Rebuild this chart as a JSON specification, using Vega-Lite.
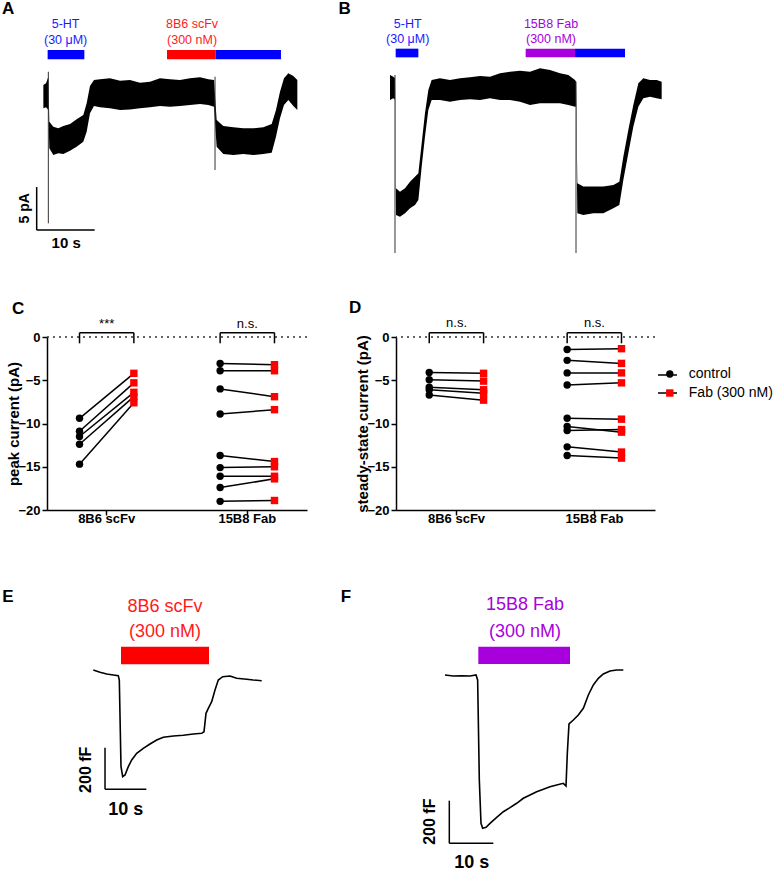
{
"$schema": "https://vega.github.io/schema/vega-lite/v6.json",
"background": "white",
"padding": 0,
"autosize": {"type": "pad"},
"columns": 4,
"align": "none",
"spacing": 0,
"bounds": "flush",
"resolve": {"scale": {"color": "independent", "shape": "independent", "strokeDash": "independent"}, "legend": {"color": "independent", "shape": "independent", "strokeDash": "independent"}},
"config": {
  "view": {"stroke": null},
  "font": "Liberation Sans",
  "axis": {"labelFont": "Liberation Sans", "labelFontSize": 13, "labelFontWeight": "bold", "labelColor": "black", "titleFont": "Liberation Sans", "titleFontSize": 15, "titleFontWeight": "bold", "titleColor": "black", "domainColor": "black", "domainWidth": 1.5, "tickColor": "black", "tickWidth": 1.5, "tickSize": 5, "grid": false, "labelPadding": 2},
  "title": {"font": "Liberation Sans", "fontSize": 17, "fontWeight": "bold", "color": "black"}
},
"datasets": {
  "traceA": [
    {"t":0.06,"hi":0.81,"lo":-1.90},{"t":0.52,"hi":1.01,"lo":-1.78},{"t":0.92,"hi":1.78,"lo":-2.09},
    {"t":1.09,"hi":-3.45,"lo":-6.55},{"t":1.78,"hi":-4.03,"lo":-7.33},{"t":2.64,"hi":-4.22,"lo":-7.13},
    {"t":3.51,"hi":-3.95,"lo":-7.21},{"t":4.66,"hi":-3.72,"lo":-6.82},{"t":5.80,"hi":-3.18,"lo":-6.36},
    {"t":6.95,"hi":-2.67,"lo":-5.78},{"t":7.53,"hi":-1.32,"lo":-4.61},{"t":8.10,"hi":0.70,"lo":-2.48},
    {"t":8.79,"hi":1.40,"lo":-1.63},{"t":9.83,"hi":1.47,"lo":-1.78},{"t":11.55,"hi":1.59,"lo":-1.90},
    {"t":13.28,"hi":1.32,"lo":-2.09},{"t":15.0,"hi":1.40,"lo":-2.02},{"t":16.72,"hi":1.09,"lo":-1.90},
    {"t":18.45,"hi":1.20,"lo":-1.78},{"t":20.17,"hi":1.59,"lo":-1.63},{"t":21.90,"hi":1.47,"lo":-1.71},
    {"t":23.62,"hi":1.40,"lo":-1.63},{"t":25.34,"hi":1.59,"lo":-1.51},{"t":27.07,"hi":1.71,"lo":-1.40},
    {"t":28.51,"hi":1.47,"lo":-1.51},{"t":29.48,"hi":1.40,"lo":-1.71},{"t":29.94,"hi":-3.26,"lo":-6.36},
    {"t":31.09,"hi":-3.95,"lo":-7.21},{"t":32.82,"hi":-4.11,"lo":-7.33},{"t":34.54,"hi":-4.22,"lo":-7.21},
    {"t":36.26,"hi":-4.22,"lo":-7.33},{"t":37.99,"hi":-4.11,"lo":-7.21},{"t":39.43,"hi":-3.72,"lo":-7.05},
    {"t":40.17,"hi":-2.09,"lo":-5.19},{"t":40.86,"hi":0.04,"lo":-3.06},{"t":41.55,"hi":1.59,"lo":-1.51},
    {"t":42.30,"hi":2.17,"lo":-0.93},{"t":43.16,"hi":1.86,"lo":-1.63},{"t":43.85,"hi":1.40,"lo":-2.09}
  ],
  "spikesA": [{"t":0.92,"top":2.36,"bottom":-15.27},{"t":29.66,"top":1.78,"bottom":-9.07}],
  "drugsA": [{"drug":"5-HT","start":0.80,"end":7.13},{"drug":"8B6 scFv","start":21.38,"end":29.77},{"drug":"5-HT","start":29.77,"end":41.03}],
  "traceB": [
    {"t":0,"hi":1.98,"lo":-0.93},{"t":0.57,"hi":1.78,"lo":-0.74},{"t":0.86,"hi":1.6,"lo":-0.9},
    {"t":1.03,"hi":-11.2,"lo":-14.3},{"t":1.72,"hi":-11.59,"lo":-14.5},{"t":2.59,"hi":-11.2,"lo":-14.1},
    {"t":3.45,"hi":-10.43,"lo":-13.53},{"t":4.31,"hi":-9.84,"lo":-13.14},{"t":4.89,"hi":-9.46,"lo":-12.56},
    {"t":5.46,"hi":-5.97,"lo":-8.68},{"t":6.03,"hi":-2.48,"lo":-5.19},{"t":6.61,"hi":0.23,"lo":-2.09},
    {"t":7.18,"hi":1.40,"lo":-0.93},{"t":8.62,"hi":1.59,"lo":-0.93},{"t":10.34,"hi":1.40,"lo":-1.12},
    {"t":12.07,"hi":1.59,"lo":-0.93},{"t":13.79,"hi":1.71,"lo":-0.85},{"t":15.52,"hi":1.86,"lo":-0.93},
    {"t":17.24,"hi":1.78,"lo":-0.74},{"t":18.97,"hi":2.17,"lo":-0.93},{"t":20.69,"hi":2.36,"lo":-0.93},
    {"t":22.41,"hi":2.48,"lo":-1.12},{"t":24.14,"hi":2.36,"lo":-1.51},{"t":25.86,"hi":2.75,"lo":-1.32},
    {"t":27.59,"hi":2.56,"lo":-1.32},{"t":29.31,"hi":2.17,"lo":-1.32},{"t":30.75,"hi":1.98,"lo":-1.51},
    {"t":31.90,"hi":1.40,"lo":-1.71},{"t":32.07,"hi":1.2,"lo":-1.7},{"t":32.30,"hi":-10.62,"lo":-14.11},
    {"t":33.33,"hi":-11.0,"lo":-14.3},{"t":35.06,"hi":-11.0,"lo":-14.1},{"t":36.78,"hi":-11.0,"lo":-14.1},
    {"t":38.51,"hi":-10.81,"lo":-13.53},{"t":39.54,"hi":-10.43,"lo":-13.14},{"t":40.23,"hi":-7.52,"lo":-10.23},
    {"t":41.09,"hi":-4.42,"lo":-7.13},{"t":41.95,"hi":-1.51,"lo":-4.03},{"t":42.82,"hi":1.01,"lo":-1.71},
    {"t":43.68,"hi":1.59,"lo":-0.74},{"t":44.83,"hi":1.40,"lo":-0.54},{"t":45.98,"hi":1.40,"lo":-0.74},
    {"t":46.84,"hi":1.20,"lo":-0.85}
  ],
  "spikesB": [{"t":0.86,"top":1.98,"bottom":-18.72},{"t":32.07,"top":1.2,"bottom":-18.72}],
  "drugsB": [{"drug":"5-HT","start":0.98,"end":4.89},{"drug":"15B8 Fab","start":23.39,"end":31.90},{"drug":"5-HT","start":31.90,"end":40.52}],
  "peak": [
    {"group":"8B6 scFv","pair":1,"condition":"control","value":-9.4},{"group":"8B6 scFv","pair":1,"condition":"Fab (300 nM)","value":-4.2},
    {"group":"8B6 scFv","pair":2,"condition":"control","value":-10.9},{"group":"8B6 scFv","pair":2,"condition":"Fab (300 nM)","value":-5.3},
    {"group":"8B6 scFv","pair":3,"condition":"control","value":-11.5},{"group":"8B6 scFv","pair":3,"condition":"Fab (300 nM)","value":-6.4},
    {"group":"8B6 scFv","pair":4,"condition":"control","value":-12.4},{"group":"8B6 scFv","pair":4,"condition":"Fab (300 nM)","value":-6.9},
    {"group":"8B6 scFv","pair":5,"condition":"control","value":-14.7},{"group":"8B6 scFv","pair":5,"condition":"Fab (300 nM)","value":-7.6},
    {"group":"15B8 Fab","pair":6,"condition":"control","value":-3.05},{"group":"15B8 Fab","pair":6,"condition":"Fab (300 nM)","value":-3.2},
    {"group":"15B8 Fab","pair":7,"condition":"control","value":-3.9},{"group":"15B8 Fab","pair":7,"condition":"Fab (300 nM)","value":-3.9},
    {"group":"15B8 Fab","pair":8,"condition":"control","value":-6.0},{"group":"15B8 Fab","pair":8,"condition":"Fab (300 nM)","value":-6.9},
    {"group":"15B8 Fab","pair":9,"condition":"control","value":-8.9},{"group":"15B8 Fab","pair":9,"condition":"Fab (300 nM)","value":-8.4},
    {"group":"15B8 Fab","pair":10,"condition":"control","value":-13.7},{"group":"15B8 Fab","pair":10,"condition":"Fab (300 nM)","value":-14.4},
    {"group":"15B8 Fab","pair":11,"condition":"control","value":-15.1},{"group":"15B8 Fab","pair":11,"condition":"Fab (300 nM)","value":-15.0},
    {"group":"15B8 Fab","pair":12,"condition":"control","value":-16.1},{"group":"15B8 Fab","pair":12,"condition":"Fab (300 nM)","value":-16.1},
    {"group":"15B8 Fab","pair":13,"condition":"control","value":-17.4},{"group":"15B8 Fab","pair":13,"condition":"Fab (300 nM)","value":-16.4},
    {"group":"15B8 Fab","pair":14,"condition":"control","value":-19.0},{"group":"15B8 Fab","pair":14,"condition":"Fab (300 nM)","value":-18.9}
  ],
  "steady": [
    {"group":"8B6 scFv","pair":1,"condition":"control","value":-4.1},{"group":"8B6 scFv","pair":1,"condition":"Fab (300 nM)","value":-4.2},
    {"group":"8B6 scFv","pair":2,"condition":"control","value":-4.95},{"group":"8B6 scFv","pair":2,"condition":"Fab (300 nM)","value":-5.1},
    {"group":"8B6 scFv","pair":3,"condition":"control","value":-5.8},{"group":"8B6 scFv","pair":3,"condition":"Fab (300 nM)","value":-6.1},
    {"group":"8B6 scFv","pair":4,"condition":"control","value":-6.1},{"group":"8B6 scFv","pair":4,"condition":"Fab (300 nM)","value":-6.5},
    {"group":"8B6 scFv","pair":5,"condition":"control","value":-6.7},{"group":"8B6 scFv","pair":5,"condition":"Fab (300 nM)","value":-7.3},
    {"group":"15B8 Fab","pair":6,"condition":"control","value":-1.45},{"group":"15B8 Fab","pair":6,"condition":"Fab (300 nM)","value":-1.35},
    {"group":"15B8 Fab","pair":7,"condition":"control","value":-2.7},{"group":"15B8 Fab","pair":7,"condition":"Fab (300 nM)","value":-3.05},
    {"group":"15B8 Fab","pair":8,"condition":"control","value":-4.15},{"group":"15B8 Fab","pair":8,"condition":"Fab (300 nM)","value":-4.15},
    {"group":"15B8 Fab","pair":9,"condition":"control","value":-5.55},{"group":"15B8 Fab","pair":9,"condition":"Fab (300 nM)","value":-5.3},
    {"group":"15B8 Fab","pair":10,"condition":"control","value":-9.4},{"group":"15B8 Fab","pair":10,"condition":"Fab (300 nM)","value":-9.5},
    {"group":"15B8 Fab","pair":11,"condition":"control","value":-10.35},{"group":"15B8 Fab","pair":11,"condition":"Fab (300 nM)","value":-11.0},
    {"group":"15B8 Fab","pair":12,"condition":"control","value":-10.8},{"group":"15B8 Fab","pair":12,"condition":"Fab (300 nM)","value":-10.7},
    {"group":"15B8 Fab","pair":13,"condition":"control","value":-12.7},{"group":"15B8 Fab","pair":13,"condition":"Fab (300 nM)","value":-13.3},
    {"group":"15B8 Fab","pair":14,"condition":"control","value":-13.7},{"group":"15B8 Fab","pair":14,"condition":"Fab (300 nM)","value":-14.0}
  ],
  "conditions": [{"condition":"control"},{"condition":"Fab (300 nM)"}],
  "sigC": [{"group":"8B6 scFv","label":"***"},{"group":"15B8 Fab","label":"n.s."}],
  "sigD": [{"group":"8B6 scFv","label":"n.s."},{"group":"15B8 Fab","label":"n.s."}],
  "bracketEnds": [{"group":"8B6 scFv","condition":"control"},{"group":"8B6 scFv","condition":"Fab (300 nM)"},{"group":"15B8 Fab","condition":"control"},{"group":"15B8 Fab","condition":"Fab (300 nM)"}],
  "traceE": [
    {"t":0.07,"c":9.6},{"t":1.69,"c":-1.4},{"t":3.32,"c":-9.6},{"t":4.92,"c":-14.4},{"t":6.13,"c":-17.8},
    {"t":6.37,"c":-38.5},{"t":6.78,"c":-455.3},{"t":7.19,"c":-503.4},{"t":7.75,"c":-495.2},{"t":8.55,"c":-455.3},
    {"t":9.37,"c":-423.1},{"t":10.58,"c":-391},{"t":12.18,"c":-366.8},{"t":13.80,"c":-346.2},{"t":15.42,"c":-326.9},
    {"t":17.02,"c":-313.9},{"t":19.44,"c":-307.7},{"t":21.86,"c":-304.3},{"t":24.29,"c":-298.1},{"t":26.32,"c":-294.7},
    {"t":26.88,"c":-287.0},{"t":27.36,"c":-198.6},{"t":27.92,"c":-174.5},{"t":28.74,"c":-142.8},{"t":29.54,"c":-86.5},
    {"t":30.34,"c":-38.5},{"t":31.40,"c":-22.6},{"t":33.17,"c":-19.2},{"t":34.79,"c":-30.3},{"t":37.22,"c":-35.1},
    {"t":38.81,"c":-38.5},{"t":40.85,"c":-41.8}
  ],
  "drugsE": [{"drug":"8B6 scFv","start":6.78,"end":28.09}],
  "traceF": [
    {"t":0,"c":0},{"t":1.89,"c":-4.7},{"t":3.79,"c":-3.3},{"t":5.68,"c":-4.7},{"t":7.05,"c":0},
    {"t":7.42,"c":-23.5},{"t":7.80,"c":-493},{"t":8.18,"c":-696.3},{"t":8.56,"c":-719.7},{"t":9.32,"c":-715},
    {"t":10.23,"c":-696.3},{"t":11.74,"c":-668.1},{"t":13.26,"c":-641.8},{"t":14.77,"c":-622.8},{"t":16.29,"c":-602.3},
    {"t":17.80,"c":-578.9},{"t":19.32,"c":-563.4},{"t":20.83,"c":-547.9},{"t":22.35,"c":-536.6},{"t":23.86,"c":-524.4},
    {"t":25.38,"c":-516.4},{"t":26.89,"c":-508.5},{"t":27.50,"c":-521.1},{"t":27.80,"c":-367.6},{"t":28.18,"c":-230},
    {"t":29.17,"c":-211.3},{"t":30.30,"c":-187.8},{"t":31.44,"c":-156.3},{"t":32.58,"c":-93.9},{"t":33.71,"c":-46.9},
    {"t":34.85,"c":-15.6},{"t":35.98,"c":4.7},{"t":37.5,"c":18.8},{"t":39.02,"c":23.5},{"t":40.53,"c":23.5}
  ],
  "drugsF": [{"drug":"15B8 Fab","start":7.57,"end":28.41}]
},
"concat": [
  {"width": 1, "height": 337, "data": {"values": []}, "mark": "point", "encoding": {}},
  {
    "width": 260, "height": 337,
    "layer": [
      {"data": {"name": "traceA"}, "mark": {"type": "area", "color": "black"},
       "encoding": {"x": {"field": "t", "type": "quantitative", "scale": {"domain": [0.6897, 45.517], "nice": false, "zero": false}, "axis": null},
                    "y": {"field": "hi", "type": "quantitative", "scale": {"domain": [-28.488, 10.698], "nice": false, "zero": false}, "axis": null},
                    "y2": {"field": "lo"}}},
      {"data": {"name": "spikesA"}, "mark": {"type": "rule", "color": "#333333", "strokeWidth": 1},
       "encoding": {"x": {"field": "t", "type": "quantitative", "axis": null}, "y": {"field": "top", "type": "quantitative", "axis": null}, "y2": {"field": "bottom"}}},
      {"data": {"name": "drugsA"}, "mark": {"type": "rect"},
       "encoding": {"x": {"field": "start", "type": "quantitative", "axis": null}, "x2": {"field": "end"},
                    "y": {"datum": 4.88, "axis": null}, "y2": {"datum": 3.80},
                    "color": {"field": "drug", "type": "nominal", "scale": {"domain": ["5-HT", "8B6 scFv", "15B8 Fab"], "range": ["#0000ff", "#ff0000", "#a800dc"]}, "legend": null}}},
      {"data": {"values": [{}]}, "mark": {"type": "rule", "color": "black", "strokeWidth": 1.5},
       "encoding": {"x": {"datum": -1.09, "axis": null}, "y": {"datum": -11.05, "axis": null}, "y2": {"datum": -16.05}}},
      {"data": {"values": [{}]}, "mark": {"type": "rule", "color": "black", "strokeWidth": 1.5},
       "encoding": {"x": {"datum": -1.09, "axis": null}, "x2": {"datum": 8.91}, "y": {"datum": -16.05, "axis": null}}},
      {"data": {"values": [{}]}, "mark": {"type": "text", "text": "A", "fontSize": 17, "fontWeight": "bold", "color": "black"},
       "encoding": {"x": {"datum": -6.03, "axis": null}, "y": {"datum": 9.65, "axis": null}}},
      {"data": {"values": [{}]}, "mark": {"type": "text", "text": "5-HT", "fontSize": 12.5, "color": "#1a1aff"},
       "encoding": {"x": {"datum": 3.9, "axis": null}, "y": {"datum": 7.91, "axis": null}}},
      {"data": {"values": [{}]}, "mark": {"type": "text", "text": "(30 μM)", "fontSize": 12.5, "color": "#1a1aff"},
       "encoding": {"x": {"datum": 3.9, "axis": null}, "y": {"datum": 6.05, "axis": null}}},
      {"data": {"values": [{}]}, "mark": {"type": "text", "text": "8B6 scFv", "fontSize": 12.5, "color": "#ff1a1a"},
       "encoding": {"x": {"datum": 25.7, "axis": null}, "y": {"datum": 7.91, "axis": null}}},
      {"data": {"values": [{}]}, "mark": {"type": "text", "text": "(300 nM)", "fontSize": 12.5, "color": "#ff1a1a"},
       "encoding": {"x": {"datum": 25.7, "axis": null}, "y": {"datum": 6.05, "axis": null}}},
      {"data": {"values": [{}]}, "mark": {"type": "text", "text": "5 pA", "fontSize": 14, "fontWeight": "bold", "color": "black", "angle": 270},
       "encoding": {"x": {"datum": -3.10, "axis": null}, "y": {"datum": -13.53, "axis": null}}},
      {"data": {"values": [{}]}, "mark": {"type": "text", "text": "10 s", "fontSize": 15, "fontWeight": "bold", "color": "black"},
       "encoding": {"x": {"datum": 4.0, "axis": null}, "y": {"datum": -17.6, "axis": null}}}
    ]
  },
  {"width": 1, "height": 337, "data": {"values": []}, "mark": "point", "encoding": {}},
  {
    "width": 259, "height": 337,
    "layer": [
      {"data": {"name": "traceB"}, "mark": {"type": "area", "color": "black"},
       "encoding": {"x": {"field": "t", "type": "quantitative", "scale": {"domain": [1.0345, 45.69], "nice": false, "zero": false}, "axis": null},
                    "y": {"field": "hi", "type": "quantitative", "scale": {"domain": [-28.488, 10.698], "nice": false, "zero": false}, "axis": null},
                    "y2": {"field": "lo"}}},
      {"data": {"name": "spikesB"}, "mark": {"type": "rule", "color": "#333333", "strokeWidth": 1},
       "encoding": {"x": {"field": "t", "type": "quantitative", "axis": null}, "y": {"field": "top", "type": "quantitative", "axis": null}, "y2": {"field": "bottom"}}},
      {"data": {"name": "drugsB"}, "mark": {"type": "rect"},
       "encoding": {"x": {"field": "start", "type": "quantitative", "axis": null}, "x2": {"field": "end"},
                    "y": {"datum": 5.04, "axis": null}, "y2": {"datum": 4.03},
                    "color": {"field": "drug", "type": "nominal", "scale": {"domain": ["5-HT", "8B6 scFv", "15B8 Fab"], "range": ["#0000ff", "#ff0000", "#a800dc"]}, "legend": null}}},
      {"data": {"values": [{}]}, "mark": {"type": "text", "text": "B", "fontSize": 17, "fontWeight": "bold", "color": "black"},
       "encoding": {"x": {"datum": -7.8, "axis": null}, "y": {"datum": 9.65, "axis": null}}},
      {"data": {"values": [{}]}, "mark": {"type": "text", "text": "5-HT", "fontSize": 12.5, "color": "#1a1aff"},
       "encoding": {"x": {"datum": 3.05, "axis": null}, "y": {"datum": 7.91, "axis": null}}},
      {"data": {"values": [{}]}, "mark": {"type": "text", "text": "(30 μM)", "fontSize": 12.5, "color": "#1a1aff"},
       "encoding": {"x": {"datum": 3.05, "axis": null}, "y": {"datum": 6.12, "axis": null}}},
      {"data": {"values": [{}]}, "mark": {"type": "text", "text": "15B8 Fab", "fontSize": 12.5, "color": "#a800dc"},
       "encoding": {"x": {"datum": 27.76, "axis": null}, "y": {"datum": 7.91, "axis": null}}},
      {"data": {"values": [{}]}, "mark": {"type": "text", "text": "(300 nM)", "fontSize": 12.5, "color": "#a800dc"},
       "encoding": {"x": {"datum": 27.76, "axis": null}, "y": {"datum": 6.12, "axis": null}}}
    ]
  },
  {"width": 47, "height": 173, "data": {"values": []}, "mark": "point", "encoding": {}},
  {
    "width": 260, "height": 173,
    "title": {"text": "C", "anchor": "start", "frame": "bounds", "offset": 0, "dx": 5},
    "layer": [
      {"data": {"values": [{}]}, "mark": {"type": "rule", "strokeDash": [2, 4], "color": "#333333", "strokeWidth": 1.5},
       "encoding": {"y": {"datum": 0}}},
      {"data": {"name": "bracketEnds"}, "mark": {"type": "line", "color": "black", "strokeWidth": 1.5},
       "encoding": {"x": {"field": "group", "type": "nominal", "title": null}, "xOffset": {"field": "condition", "type": "nominal"}, "y": {"datum": 0.5}, "detail": {"field": "group"}}},
      {"data": {"name": "bracketEnds"}, "mark": {"type": "rule", "color": "black", "strokeWidth": 1.5},
       "encoding": {"x": {"field": "group", "type": "nominal", "title": null}, "xOffset": {"field": "condition", "type": "nominal"}, "y": {"datum": 0.5}, "y2": {"datum": -0.73}}},
      {"data": {"name": "sigC"}, "mark": {"type": "text", "fontSize": 13, "color": "black"},
       "encoding": {"x": {"field": "group", "type": "nominal", "title": null}, "y": {"datum": 1.45}, "text": {"field": "label"}}},
      {"data": {"name": "peak"}, "mark": {"type": "line", "color": "black", "strokeWidth": 1.5},
       "encoding": {"x": {"field": "group", "type": "nominal", "title": null}, "xOffset": {"field": "condition", "type": "nominal"}, "y": {"field": "value", "type": "quantitative", "title": "peak current (pA)"}, "detail": {"field": "pair"}}},
      {"data": {"name": "peak"}, "mark": {"type": "point", "filled": true, "opacity": 1, "size": 55},
       "encoding": {
         "x": {"field": "group", "type": "nominal", "title": null, "scale": {"domain": ["8B6 scFv", "15B8 Fab"], "paddingInner": 0.227, "paddingOuter": 0.038}, "axis": {"title": null, "labelAngle": 0, "labelPadding": 3, "bandPosition": 0.5, "labelAlign": "center"}},
         "xOffset": {"field": "condition", "type": "nominal", "scale": {"domain": ["control", "Fab (300 nM)"], "paddingInner": 0, "paddingOuter": 0}},
         "y": {"field": "value", "type": "quantitative", "title": "peak current (pA)", "scale": {"domain": [-20, 0], "nice": false, "zero": false}, "axis": {"values": [0, -5, -10, -15, -20], "title": "peak current (pA)", "titlePadding": -4}},
         "color": {"field": "condition", "type": "nominal", "scale": {"domain": ["control", "Fab (300 nM)"], "range": ["black", "#ff0000"]}, "legend": null},
         "shape": {"field": "condition", "type": "nominal", "scale": {"domain": ["control", "Fab (300 nM)"], "range": ["circle", "square"]}, "legend": null}}}
    ]
  },
  {"width": 89, "height": 173, "data": {"values": []}, "mark": "point", "encoding": {}},
  {
    "width": 259, "height": 173,
    "title": {"text": "D", "anchor": "start", "frame": "bounds", "offset": 0, "dx": -7},
    "layer": [
      {"data": {"values": [{}]}, "mark": {"type": "rule", "strokeDash": [2, 4], "color": "#333333", "strokeWidth": 1.5},
       "encoding": {"y": {"datum": 0}}},
      {"data": {"name": "bracketEnds"}, "mark": {"type": "line", "color": "black", "strokeWidth": 1.5},
       "encoding": {"x": {"field": "group", "type": "nominal", "title": null}, "xOffset": {"field": "condition", "type": "nominal"}, "y": {"datum": 0.5}, "detail": {"field": "group"}}},
      {"data": {"name": "bracketEnds"}, "mark": {"type": "rule", "color": "black", "strokeWidth": 1.5},
       "encoding": {"x": {"field": "group", "type": "nominal", "title": null}, "xOffset": {"field": "condition", "type": "nominal"}, "y": {"datum": 0.5}, "y2": {"datum": -0.73}}},
      {"data": {"name": "sigD"}, "mark": {"type": "text", "fontSize": 13, "color": "black"},
       "encoding": {"x": {"field": "group", "type": "nominal", "title": null}, "y": {"datum": 1.6}, "text": {"field": "label"}}},
      {"data": {"name": "conditions"}, "mark": {"type": "line", "opacity": 0, "color": "black", "strokeWidth": 1.6},
       "encoding": {"x": {"datum": "8B6 scFv"}, "y": {"datum": -1},
                    "strokeDash": {"field": "condition", "type": "nominal", "scale": {"domain": ["Fab (300 nM)", "control"], "range": [[1, 0], [1, 0]]},
                      "legend": {"title": null, "orient": "none", "legendX": 261, "legendY": 27.5, "symbolSize": 361, "symbolStrokeWidth": 1.6, "symbolStrokeColor": "black", "symbolOpacity": 1, "labelFontSize": 14, "labelExpr": "''", "labelOpacity": 0, "rowPadding": 0, "zindex": 1}}}},
      {"data": {"name": "steady"}, "mark": {"type": "line", "color": "black", "strokeWidth": 1.5},
       "encoding": {"x": {"field": "group", "type": "nominal", "title": null}, "xOffset": {"field": "condition", "type": "nominal"}, "y": {"field": "value", "type": "quantitative", "title": "steady-state current (pA)"}, "detail": {"field": "pair"}}},
      {"data": {"name": "steady"}, "mark": {"type": "point", "filled": true, "opacity": 1, "size": 55},
       "encoding": {
         "x": {"field": "group", "type": "nominal", "title": null, "scale": {"domain": ["8B6 scFv", "15B8 Fab"], "paddingInner": 0.21, "paddingOuter": 0.044}, "axis": {"title": null, "labelAngle": 0, "labelPadding": 3, "bandPosition": 0.5, "labelAlign": "center"}},
         "xOffset": {"field": "condition", "type": "nominal", "scale": {"domain": ["control", "Fab (300 nM)"], "paddingInner": 0, "paddingOuter": 0}},
         "y": {"field": "value", "type": "quantitative", "title": "steady-state current (pA)", "scale": {"domain": [-20, 0], "nice": false, "zero": false}, "axis": {"values": [0, -5, -10, -15, -20], "title": "steady-state current (pA)", "titlePadding": -4}},
         "color": {"field": "condition", "type": "nominal", "scale": {"domain": ["control", "Fab (300 nM)"], "range": ["black", "#ff0000"]},
           "legend": {"title": null, "orient": "none", "legendX": 266.8, "legendY": 30, "symbolSize": 55, "symbolOpacity": 1, "labelFontSize": 14, "labelFont": "Liberation Sans", "labelColor": "black", "labelLimit": 200, "rowPadding": 5, "labelOffset": 12, "zindex": 2}},
         "shape": {"field": "condition", "type": "nominal", "scale": {"domain": ["control", "Fab (300 nM)"], "range": ["circle", "square"]}, "legend": null}}}
    ]
  },
  {"width": 1, "height": 362, "data": {"values": []}, "mark": "point", "encoding": {}},
  {
    "width": 260, "height": 362,
    "layer": [
      {"data": {"name": "traceE"}, "mark": {"type": "line", "color": "black", "strokeWidth": 1.6},
       "encoding": {"x": {"field": "t", "type": "quantitative", "scale": {"domain": [-11.138, 51.816], "nice": false, "zero": false}, "axis": null},
                    "y": {"field": "c", "type": "quantitative", "scale": {"domain": [-961.54, 778.85], "nice": false, "zero": false}, "axis": null}}},
      {"data": {"name": "drugsE"}, "mark": {"type": "rect"},
       "encoding": {"x": {"field": "start", "type": "quantitative", "axis": null}, "x2": {"field": "end"},
                    "y": {"datum": 121.6, "axis": null}, "y2": {"datum": 37.0},
                    "color": {"field": "drug", "type": "nominal", "scale": {"domain": ["5-HT", "8B6 scFv", "15B8 Fab"], "range": ["#0000ff", "#ff0000", "#a800dc"]}, "legend": null}}},
      {"data": {"values": [{}]}, "mark": {"type": "rule", "color": "black", "strokeWidth": 1.5},
       "encoding": {"x": {"datum": 2.91, "axis": null}, "y": {"datum": -364, "axis": null}, "y2": {"datum": -564}}},
      {"data": {"values": [{}]}, "mark": {"type": "rule", "color": "black", "strokeWidth": 1.5},
       "encoding": {"x": {"datum": 2.91, "axis": null}, "x2": {"datum": 12.91}, "y": {"datum": -564, "axis": null}}},
      {"data": {"values": [{}]}, "mark": {"type": "text", "text": "E", "fontSize": 17, "fontWeight": "bold", "color": "black"},
       "encoding": {"x": {"datum": -20.58, "axis": null}, "y": {"datum": 360.6, "axis": null}}},
      {"data": {"values": [{}]}, "mark": {"type": "text", "text": "8B6 scFv", "fontSize": 18, "color": "#ff1a1a"},
       "encoding": {"x": {"datum": 17.43, "axis": null}, "y": {"datum": 313.9, "axis": null}}},
      {"data": {"values": [{}]}, "mark": {"type": "text", "text": "(300 nM)", "fontSize": 18, "color": "#ff1a1a"},
       "encoding": {"x": {"datum": 17.43, "axis": null}, "y": {"datum": 193.8, "axis": null}}},
      {"data": {"values": [{}]}, "mark": {"type": "text", "text": "200 fF", "fontSize": 16, "fontWeight": "bold", "color": "black", "angle": 270},
       "encoding": {"x": {"datum": -1.69, "axis": null}, "y": {"datum": -470, "axis": null}}},
      {"data": {"values": [{}]}, "mark": {"type": "text", "text": "10 s", "fontSize": 18, "fontWeight": "bold", "color": "black"},
       "encoding": {"x": {"datum": 7.92, "axis": null}, "y": {"datum": -663.5, "axis": null}}}
    ]
  },
  {"width": 1, "height": 362, "data": {"values": []}, "mark": "point", "encoding": {}},
  {
    "width": 259, "height": 362,
    "layer": [
      {"data": {"name": "traceF"}, "mark": {"type": "line", "color": "black", "strokeWidth": 1.6},
       "encoding": {"x": {"field": "t", "type": "quantitative", "scale": {"domain": [-11.136, 47.727], "nice": false, "zero": false}, "axis": null},
                    "y": {"field": "c", "type": "quantitative", "scale": {"domain": [-924.88, 774.65], "nice": false, "zero": false}, "axis": null}}},
      {"data": {"name": "drugsF"}, "mark": {"type": "rect"},
       "encoding": {"x": {"field": "start", "type": "quantitative", "axis": null}, "x2": {"field": "end"},
                    "y": {"datum": 132.9, "axis": null}, "y2": {"datum": 51.6},
                    "color": {"field": "drug", "type": "nominal", "scale": {"domain": ["5-HT", "8B6 scFv", "15B8 Fab"], "range": ["#0000ff", "#ff0000", "#a800dc"]}, "legend": null}}},
      {"data": {"values": [{}]}, "mark": {"type": "rule", "color": "black", "strokeWidth": 1.5},
       "encoding": {"x": {"datum": 0.98, "axis": null}, "y": {"datum": -590.1, "axis": null}, "y2": {"datum": -790.1}}},
      {"data": {"values": [{}]}, "mark": {"type": "rule", "color": "black", "strokeWidth": 1.5},
       "encoding": {"x": {"datum": 0.98, "axis": null}, "x2": {"datum": 10.98}, "y": {"datum": -790.1, "axis": null}}},
      {"data": {"values": [{}]}, "mark": {"type": "text", "text": "F", "fontSize": 17, "fontWeight": "bold", "color": "black"},
       "encoding": {"x": {"datum": -22.5, "axis": null}, "y": {"datum": 366.2, "axis": null}}},
      {"data": {"values": [{}]}, "mark": {"type": "text", "text": "15B8 Fab", "fontSize": 18, "color": "#a800dc"},
       "encoding": {"x": {"datum": 18.18, "axis": null}, "y": {"datum": 328.6, "axis": null}}},
      {"data": {"values": [{}]}, "mark": {"type": "text", "text": "(300 nM)", "fontSize": 18, "color": "#a800dc"},
       "encoding": {"x": {"datum": 18.18, "axis": null}, "y": {"datum": 203.3, "axis": null}}},
      {"data": {"values": [{}]}, "mark": {"type": "text", "text": "200 fF", "fontSize": 16, "fontWeight": "bold", "color": "black", "angle": 270},
       "encoding": {"x": {"datum": -3.41, "axis": null}, "y": {"datum": -688.7, "axis": null}}},
      {"data": {"values": [{}]}, "mark": {"type": "text", "text": "10 s", "fontSize": 18, "fontWeight": "bold", "color": "black"},
       "encoding": {"x": {"datum": 6.07, "axis": null}, "y": {"datum": -884.0, "axis": null}}}
    ]
  }
]
}
